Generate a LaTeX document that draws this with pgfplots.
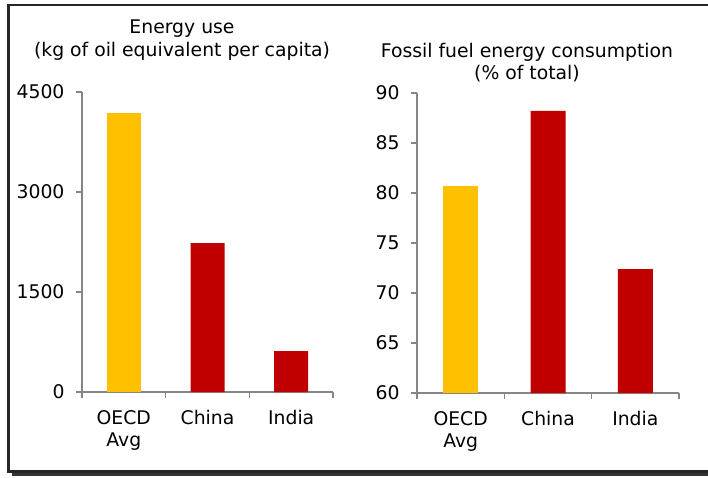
\documentclass[border=0pt]{standalone}
\usepackage{pgfplots}
\pgfplotsset{compat=1.18}
\usepackage{fontspec}
\setmainfont{DejaVu Sans}
\definecolor{oecdyellow}{HTML}{FFC000}
\definecolor{cnred}{HTML}{C00000}
\definecolor{axgray}{HTML}{868686}
\newcommand{\chf}{\fontsize{18.8}{22.5}\selectfont}
\pgfplotsset{
  mybars/.style={
    scale only axis,
    axis lines*=left,
    axis line style={draw=axgray, line width=1.3pt},
    xmin=-0.5, xmax=2.5,
    xtick={0,1,2},
    xticklabels={{OECD\\Avg},China,India},
    xticklabel style={align=center, font=\chf, text=black, yshift=-9pt},
    yticklabel style={font=\chf, text=black, xshift=-8pt},
    major x tick style={draw=none},
    tick align=outside,
    major tick length=6pt,
    tick style={draw=axgray, line width=1.3pt},
    extra x ticks={-0.5,0.5,1.5,2.5},
    extra x tick labels={},
    extra x tick style={major x tick style={draw=axgray, line width=1.3pt}, major tick length=6pt},
    /pgf/number format/assume math mode=true,
    /pgf/number format/1000 sep={},
    clip=false,
  }
}
\begin{document}
\begin{tikzpicture}[x=1pt,y=1pt,font=\chf]
\useasboundingbox (0,0) rectangle (708,477);
\fill[black!80] (12,1) rectangle (740,468);
\draw[black!85, line width=2.6pt, fill=white] (8.5,5.5) rectangle (735,472);

\node[anchor=base] at (182,443) {Energy use};
\node[anchor=base] at (182,420) {(kg of oil equivalent per capita)};
\node[anchor=base] at (527,419) {Fossil fuel energy consumption};
\node[anchor=base] at (527,397) {(\% of total)};

\begin{axis}[mybars, at={(82pt,85pt)}, anchor=south west,
  width=251pt, height=300pt,
  ymin=0, ymax=4500, ytick={0,1500,3000,4500}]
\addplot[ybar, bar width=34pt, bar shift=0pt, fill=oecdyellow, draw=none] coordinates {(0,4185)};
\addplot[ybar, bar width=34pt, bar shift=0pt, fill=cnred, draw=none] coordinates {(1,2235) (2,615)};
\end{axis}

\begin{axis}[mybars, at={(417pt,84pt)}, anchor=south west,
  width=262pt, height=300pt,
  ymin=60, ymax=90, ytick={60,65,70,75,80,85,90}]
\addplot[ybar, bar width=35pt, bar shift=0pt, fill=oecdyellow, draw=none] coordinates {(0,80.7)};
\addplot[ybar, bar width=35pt, bar shift=0pt, fill=cnred, draw=none] coordinates {(1,88.2) (2,72.4)};
\end{axis}
\end{tikzpicture}
\end{document}
